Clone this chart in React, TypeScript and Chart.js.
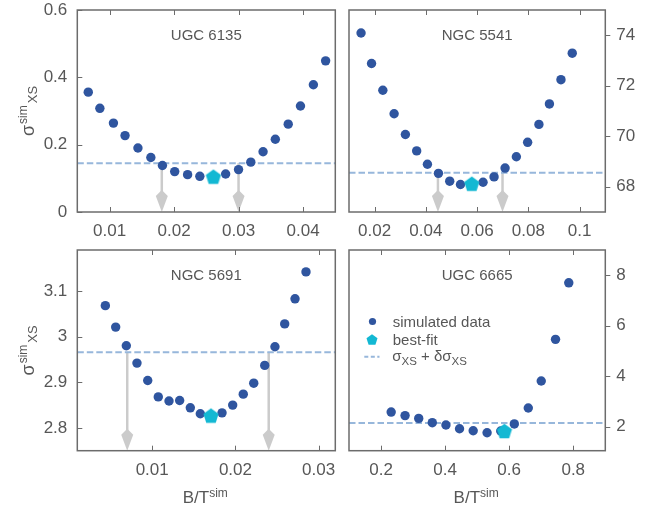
import { useEffect, useRef } from 'react';
import { Chart, registerables } from 'chart.js';

Chart.register(...registerables);

// ---- data ---------------------------------------------------------------

// UGC 6135
const ugc6135X = [0.0067, 0.0085, 0.0106, 0.0124, 0.0144, 0.0164, 0.0182, 0.0201, 0.0221, 0.024, 0.0261, 0.028, 0.03, 0.0319, 0.0338, 0.0357, 0.0377, 0.0396, 0.0416, 0.0435];
const ugc6135Y = [0.356, 0.308, 0.264, 0.227, 0.19, 0.162, 0.138, 0.12, 0.111, 0.106, 0.105, 0.113, 0.126, 0.148, 0.179, 0.216, 0.261, 0.315, 0.378, 0.449];
const ugc6135Best = [0.0261, 0.105];
const ugc6135Level = 0.145;
const ugc6135Arrows = [0.0181, 0.03];
const ugc6135XTicks = [0.01, 0.02, 0.03, 0.04];
const ugc6135YTicks = [0, 0.2, 0.4, 0.6];

// NGC 5541
const ngc5541X = [0.0147, 0.0188, 0.0232, 0.0276, 0.032, 0.0364, 0.0406, 0.0449, 0.0493, 0.0535, 0.0579, 0.0623, 0.0666, 0.0709, 0.0753, 0.0797, 0.0841, 0.0882, 0.0927, 0.0971];
const ngc5541Y = [74.09, 72.88, 71.82, 70.89, 70.07, 69.42, 68.89, 68.53, 68.22, 68.09, 68.12, 68.18, 68.39, 68.74, 69.19, 69.76, 70.47, 71.28, 72.24, 73.29];
const ngc5541Best = [0.0579, 68.12];
const ngc5541Level = 68.55;
const ngc5541Arrows = [0.0447, 0.0699];
const ngc5541XTicks = [0.02, 0.04, 0.06, 0.08, 0.1];
const ngc5541YTicks = [68, 70, 72, 74];

// NGC 5691
const ngc5691X = [0.00437, 0.00561, 0.00689, 0.00817, 0.00946, 0.01073, 0.01202, 0.0133, 0.01458, 0.01578, 0.01706, 0.01839, 0.01967, 0.02094, 0.0222, 0.02352, 0.02475, 0.02592, 0.02716, 0.02848];
const ngc5691Y = [3.068, 3.021, 2.98, 2.942, 2.904, 2.868, 2.859, 2.86, 2.844, 2.831, 2.827, 2.833, 2.85, 2.874, 2.898, 2.937, 2.978, 3.028, 3.083, 3.142];
const ngc5691Best = [0.01706, 2.827];
const ngc5691Level = 2.966;
const ngc5691Arrows = [0.007, 0.024];
const ngc5691XTicks = [0.01, 0.02, 0.03];
const ngc5691YTicks = [2.8, 2.9, 3, 3.1];

// UGC 6665
const ugc6665X = [0.2316, 0.275, 0.3176, 0.36, 0.4026, 0.445, 0.4876, 0.531, 0.5736, 0.616, 0.6596, 0.7, 0.7446, 0.786];
const ugc6665Y = [2.58, 2.44, 2.33, 2.16, 2.07, 1.92, 1.84, 1.76, 1.83, 2.11, 2.74, 3.81, 5.46, 7.7];
const ugc6665Best = [0.585, 1.83];
const ugc6665Level = 2.15;
const ugc6665Arrows: number[] = [];
const ugc6665XTicks = [0.2, 0.4, 0.6, 0.8];
const ugc6665YTicks = [2, 4, 6, 8];

// ---- styling --------------------------------------------------------------

const FONT = '"Liberation Sans", Arial, Helvetica, sans-serif';
const TEXT = '#575757';
const DOT = '#2f559f';
const CYAN = '#13b8d3';
const DASH = '#97b7db';
const ARROW = '#cbcbcb';
const FRAME = '#6c6c6c';

type Panel = {
  name: string;
  xs: number[];
  ys: number[];
  best: number[];
  level: number;
  arrows: number[];
  xRange: number[];
  yRange: number[];
  xTicks: number[];
  yTicks: number[];
  side: 'left' | 'right';
  box: { left: number; top: number; width: number; height: number };
  pad: { left: number; right: number; top: number; bottom: number };
  axisW: number;
  axisH: number;
  yTitle: boolean;
  xTitle: boolean;
  legend: boolean;
};

const panels: Panel[] = [
  {
    name: 'UGC 6135', xs: ugc6135X, ys: ugc6135Y, best: ugc6135Best, level: ugc6135Level, arrows: ugc6135Arrows,
    xRange: [0.005, 0.045], yRange: [0, 0.6], xTicks: ugc6135XTicks, yTicks: ugc6135YTicks,
    side: 'left', box: { left: 0, top: 0, width: 345, height: 240 },
    pad: { left: 0, right: 9.7, top: 10, bottom: 0 }, axisW: 77.3, axisH: 28,
    yTitle: true, xTitle: false, legend: false,
  },
  {
    name: 'NGC 5541', xs: ngc5541X, ys: ngc5541Y, best: ngc5541Best, level: ngc5541Level, arrows: ngc5541Arrows,
    xRange: [0.01, 0.11], yRange: [67, 75], xTicks: ngc5541XTicks, yTicks: ngc5541YTicks,
    side: 'right', box: { left: 340, top: 0, width: 314, height: 240 },
    pad: { left: 8, right: 0, top: 10, bottom: 0 }, axisW: 48.7, axisH: 28,
    yTitle: false, xTitle: false, legend: false,
  },
  {
    name: 'NGC 5691', xs: ngc5691X, ys: ngc5691Y, best: ngc5691Best, level: ngc5691Level, arrows: ngc5691Arrows,
    xRange: [0.001, 0.032], yRange: [2.75, 3.19], xTicks: ngc5691XTicks, yTicks: ngc5691YTicks,
    side: 'left', box: { left: 0, top: 240, width: 345, height: 268 },
    pad: { left: 0, right: 9.7, top: 10, bottom: 0 }, axisW: 77.3, axisH: 57.3,
    yTitle: true, xTitle: true, legend: false,
  },
  {
    name: 'UGC 6665', xs: ugc6665X, ys: ugc6665Y, best: ugc6665Best, level: ugc6665Level, arrows: ugc6665Arrows,
    xRange: [0.1, 0.9], yRange: [1.05, 9], xTicks: ugc6665XTicks, yTicks: ugc6665YTicks,
    side: 'right', box: { left: 340, top: 240, width: 314, height: 268 },
    pad: { left: 8, right: 0, top: 10, bottom: 0 }, axisW: 48.7, axisH: 57.3,
    yTitle: false, xTitle: true, legend: true,
  },
];

// ---- drawing helpers --------------------------------------------------------

function pentagonPath(ctx: CanvasRenderingContext2D, cx: number, cy: number, r: number) {
  ctx.beginPath();
  for (let i = 0; i < 5; i++) {
    const a = -Math.PI / 2 + (i * 2 * Math.PI) / 5;
    const px = cx + r * Math.cos(a);
    const py = cy + r * Math.sin(a);
    if (i === 0) ctx.moveTo(px, py);
    else ctx.lineTo(px, py);
  }
  ctx.closePath();
}

function pentagonSprite(r: number, color: string) {
  const c = document.createElement('canvas');
  const s = Math.ceil(r * 2 + 2);
  c.width = s;
  c.height = s;
  const g = c.getContext('2d')!;
  g.fillStyle = color;
  pentagonPath(g, s / 2, s / 2 + r * 0.095, r);
  g.fill();
  return c;
}

type Run = { t: string; size: number; dy: number; gap?: number };

function runWidth(ctx: CanvasRenderingContext2D, runs: Run[]) {
  let w = 0;
  for (const r of runs) {
    ctx.font = `${r.size}px ${FONT}`;
    w += ctx.measureText(r.t).width + (r.gap || 0);
  }
  return w;
}

function drawRuns(ctx: CanvasRenderingContext2D, runs: Run[], x: number, y: number) {
  ctx.textBaseline = 'alphabetic';
  ctx.textAlign = 'left';
  let cx = x;
  for (const r of runs) {
    ctx.font = `${r.size}px ${FONT}`;
    cx += r.gap || 0;
    ctx.fillText(r.t, cx, y + r.dy);
    cx += ctx.measureText(r.t).width;
  }
}

const yTitleRuns: Run[] = [
  { t: 'σ', size: 18, dy: 0 },
  { t: 'sim', size: 12, dy: -6.8, gap: 1 },
  { t: 'XS', size: 13, dy: 3.8, gap: 2 },
];
const xTitleRuns: Run[] = [
  { t: 'B/T', size: 17, dy: 0 },
  { t: 'sim', size: 12, dy: -6 },
];
const legendRuns: Run[] = [
  { t: 'σ', size: 15, dy: 0 },
  { t: 'XS', size: 11.5, dy: 4 },
  { t: ' + δσ', size: 15, dy: 0 },
  { t: 'XS', size: 11.5, dy: 4 },
];

function makeDecor(p: Panel) {
  return {
    id: 'panelDecor',
    beforeDatasetsDraw(chart: any) {
      const { ctx } = chart;
      const sx = chart.scales.x;
      const sy = chart.scales.y;
      const y0 = sy.getPixelForValue(p.level);
      const yb = sy.getPixelForValue(p.yRange[0]);
      ctx.save();
      ctx.strokeStyle = ARROW;
      ctx.fillStyle = ARROW;
      ctx.lineWidth = 2.5;
      for (const a of p.arrows) {
        const x = sx.getPixelForValue(a);
        ctx.beginPath();
        ctx.moveTo(x, y0);
        ctx.lineTo(x, yb - 18);
        ctx.stroke();
        ctx.beginPath();
        ctx.moveTo(x, yb);
        ctx.lineTo(x - 6, yb - 16);
        ctx.lineTo(x, yb - 22);
        ctx.lineTo(x + 6, yb - 16);
        ctx.closePath();
        ctx.fill();
      }
      ctx.restore();
    },
    afterDatasetsDraw(chart: any) {
      const { ctx, chartArea: ca } = chart;
      const sx = chart.scales.x;
      const sy = chart.scales.y;
      ctx.save();

      // frame and tick marks
      ctx.strokeStyle = FRAME;
      ctx.lineWidth = 1.5;
      ctx.strokeRect(ca.left, ca.top, ca.right - ca.left, ca.bottom - ca.top);
      ctx.lineWidth = 1;
      ctx.beginPath();
      for (const v of p.xTicks) {
        const x = Math.round(sx.getPixelForValue(v)) + 0.5;
        ctx.moveTo(x, ca.top);
        ctx.lineTo(x, ca.top + 5);
        ctx.moveTo(x, ca.bottom);
        ctx.lineTo(x, ca.bottom - 5);
      }
      for (const v of p.yTicks) {
        const y = Math.round(sy.getPixelForValue(v)) + 0.5;
        if (p.side === 'left') {
          ctx.moveTo(ca.left, y);
          ctx.lineTo(ca.left + 5, y);
        } else {
          ctx.moveTo(ca.right, y);
          ctx.lineTo(ca.right + 5, y);
        }
      }
      ctx.stroke();

      ctx.fillStyle = TEXT;

      // galaxy name
      ctx.font = `15px ${FONT}`;
      ctx.textAlign = 'center';
      ctx.textBaseline = 'middle';
      ctx.fillText(p.name, (ca.left + ca.right) / 2, ca.top + 26);

      // y-axis title
      if (p.yTitle) {
        ctx.save();
        ctx.translate(33.5, (ca.top + ca.bottom) / 2);
        ctx.rotate(-Math.PI / 2);
        const w = runWidth(ctx, yTitleRuns);
        drawRuns(ctx, yTitleRuns, -w / 2, 0);
        ctx.restore();
      }

      // x-axis title
      if (p.xTitle) {
        const w = runWidth(ctx, xTitleRuns);
        drawRuns(ctx, xTitleRuns, (ca.left + ca.right) / 2 - w / 2 - 1, chart.height - 5.3);
      }

      // legend
      if (p.legend) {
        const lx = ca.left + 23.5;
        const tx = ca.left + 43.7;
        ctx.fillStyle = DOT;
        ctx.beginPath();
        ctx.arc(lx, ca.top + 71.5, 3.6, 0, Math.PI * 2);
        ctx.fill();
        ctx.fillStyle = CYAN;
        pentagonPath(ctx, lx - 0.5, ca.top + 90, 5.8);
        ctx.fill();
        ctx.strokeStyle = DASH;
        ctx.lineWidth = 2;
        ctx.setLineDash([4, 2.5]);
        ctx.beginPath();
        ctx.moveTo(ca.left + 15.3, ca.top + 106.7);
        ctx.lineTo(ca.left + 30.5, ca.top + 106.7);
        ctx.stroke();
        ctx.setLineDash([]);
        ctx.fillStyle = TEXT;
        ctx.font = `15px ${FONT}`;
        ctx.textAlign = 'left';
        ctx.textBaseline = 'alphabetic';
        ctx.fillText('simulated data', tx, ca.top + 77);
        ctx.fillText('best-fit', tx, ca.top + 95);
        drawRuns(ctx, legendRuns, tx - 0.5, ca.top + 110.5);
      }
      ctx.restore();
    },
  };
}

function fmt(v: number | string) {
  return String(Number(v));
}

function buildConfig(p: Panel): any {
  const tickFont = { family: FONT, size: 17 };
  return {
    type: 'scatter',
    data: {
      datasets: [
        {
          label: 'best-fit',
          data: [{ x: p.best[0], y: p.best[1] }],
          pointStyle: pentagonSprite(8, CYAN),
          pointRadius: 8,
          order: 1,
        },
        {
          label: 'simulated data',
          data: p.xs.map((x, i) => ({ x, y: p.ys[i] })),
          pointRadius: 4.7,
          pointBackgroundColor: DOT,
          pointBorderWidth: 0,
          borderWidth: 0,
          order: 2,
        },
        {
          label: 'σXS + δσXS',
          data: [
            { x: p.xRange[0], y: p.level },
            { x: p.xRange[1], y: p.level },
          ],
          showLine: true,
          borderColor: DASH,
          borderWidth: 2,
          borderDash: [6.5, 3],
          pointRadius: 0,
          order: 3,
        },
      ],
    },
    options: {
      animation: false,
      responsive: false,
      maintainAspectRatio: false,
      devicePixelRatio: 1,
      events: [],
      layout: { padding: p.pad },
      plugins: { legend: { display: false }, tooltip: { enabled: false }, title: { display: false } },
      scales: {
        x: {
          type: 'linear',
          position: 'bottom',
          min: p.xRange[0],
          max: p.xRange[1],
          grid: { display: false, drawTicks: false },
          border: { display: false },
          ticks: { color: TEXT, font: tickFont, padding: 9, autoSkip: false, maxRotation: 0, callback: fmt },
          afterBuildTicks: (s: any) => {
            s.ticks = p.xTicks.map((v) => ({ value: v }));
          },
          afterFit: (s: any) => {
            s.height = p.axisH;
            s.paddingLeft = 0;
            s.paddingRight = 0;
            s.paddingTop = 0;
            s.paddingBottom = 0;
          },
        },
        y: {
          type: 'linear',
          position: p.side,
          min: p.yRange[0],
          max: p.yRange[1],
          grid: { display: false, drawTicks: false },
          border: { display: false },
          ticks: { color: TEXT, font: tickFont, padding: p.side === 'left' ? 10 : 11, autoSkip: false, callback: fmt },
          afterBuildTicks: (s: any) => {
            s.ticks = p.yTicks.map((v) => ({ value: v }));
          },
          afterFit: (s: any) => {
            s.width = p.axisW;
            s.paddingLeft = 0;
            s.paddingRight = 0;
            s.paddingTop = 0;
            s.paddingBottom = 0;
          },
        },
      },
    },
    plugins: [makeDecor(p)],
  };
}

function PanelChart({ p }: { p: Panel }) {
  const ref = useRef<HTMLCanvasElement>(null);
  useEffect(() => {
    const chart = new Chart(ref.current!, buildConfig(p));
    return () => chart.destroy();
  }, [p]);
  return (
    <canvas
      ref={ref}
      width={p.box.width}
      height={p.box.height}
      style={{ position: 'absolute', left: p.box.left, top: p.box.top, width: p.box.width, height: p.box.height }}
    />
  );
}

export default function App() {
  return (
    <div style={{ position: 'absolute', left: 0, top: 0, width: 654, height: 508, background: '#fff', overflow: 'hidden' }}>
      {panels.map((p) => (
        <PanelChart key={p.name} p={p} />
      ))}
    </div>
  );
}
